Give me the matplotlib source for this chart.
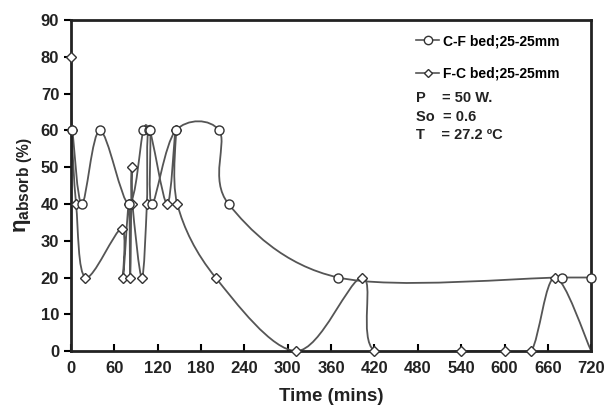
import numpy as np
import matplotlib
matplotlib.use("Agg")
import matplotlib.pyplot as plt
from matplotlib.path import Path
from matplotlib.patches import PathPatch
from matplotlib.lines import Line2D

# C-F bed (circles)
cf_time = [2, 15, 40, 80, 100, 108, 110, 112, 145, 205, 218, 370, 680, 720]
cf_eta = [60, 40, 60, 40, 60, 60, 60, 40, 60, 60, 40, 20, 20, 20]

# F-C bed (diamonds)
fc_time = [0, 1, 7, 20, 70, 72, 80, 82, 84, 85, 98, 105, 108, 133, 145, 147,
           200, 312, 403, 420, 540, 600, 637, 670, 720]
fc_eta = [80, 60, 40, 20, 33.3, 20, 40, 20, 50, 40, 20, 40, 60, 40, 60, 40,
          20, 0, 20, 0, 0, 0, 0, 20, 0]

x_ticks = list(range(0, 721, 60))
y_ticks = list(range(0, 91, 10))

LINE_COLOR = "#555555"
EDGE_COLOR = "#333333"


def smooth_path(xs, ys, sx, sy):
    # excel-like smoothed line: catmull-rom bezier computed in screen-ish units
    p = np.column_stack([np.asarray(xs, float) * sx, np.asarray(ys, float) * sy])
    verts = [p[0]]
    codes = [Path.MOVETO]
    n = len(p)
    for i in range(n - 1):
        p0 = p[i - 1] if i > 0 else p[i]
        p1 = p[i]
        p2 = p[i + 1]
        p3 = p[i + 2] if i + 2 < n else p[i + 1]
        c1 = p1 + (p2 - p0) / 6.0
        c2 = p2 - (p3 - p1) / 6.0
        verts += [c1, c2, p2]
        codes += [Path.CURVE4] * 3
    verts = np.array(verts)
    verts[:, 0] /= sx
    verts[:, 1] /= sy
    return Path(verts, codes)


plt.rcParams["font.family"] = ["Liberation Sans", "DejaVu Sans"]
plt.rcParams["mathtext.fontset"] = "custom"
plt.rcParams["mathtext.rm"] = "Liberation Sans:bold"
plt.rcParams["mathtext.bf"] = "Liberation Sans:bold"
plt.rcParams["mathtext.it"] = "Liberation Sans:bold"

fig = plt.figure(figsize=(6.07, 4.12), dpi=100)
ax = fig.add_axes([0.117, 0.148, 0.857, 0.803])
ax.set_xlim(0, 720)
ax.set_ylim(0, 90)

# scale factors: pixels per data unit
sx = 520 / 720
sy = 330 / 90

for xs, ys in [(cf_time, cf_eta), (fc_time, fc_eta)]:
    patch = PathPatch(smooth_path(xs, ys, sx, sy), facecolor="none",
                      edgecolor=LINE_COLOR, linewidth=1.3, zorder=2)
    ax.add_patch(patch)

ax.plot(fc_time[:-1], fc_eta[:-1], linestyle="none", marker="D", markersize=4.6,
        markerfacecolor="white", markeredgecolor=EDGE_COLOR, markeredgewidth=1.0,
        zorder=3, clip_on=False)
ax.plot(cf_time, cf_eta, linestyle="none", marker="o", markersize=6.5,
        markerfacecolor="white", markeredgecolor=EDGE_COLOR, markeredgewidth=1.0,
        zorder=4, clip_on=False)

ax.set_xticks(x_ticks)
ax.set_yticks(y_ticks)
ax.tick_params(axis="x", direction="in", length=5, width=1.5, labelsize=12, pad=7)
ax.tick_params(axis="y", direction="out", length=5, width=1.5, labelsize=12)
for lab in ax.get_xticklabels() + ax.get_yticklabels():
    lab.set_fontweight("bold")
    lab.set_color("#222222")
for sp in ax.spines.values():
    sp.set_linewidth(2)
    sp.set_color("#222222")

ax.set_xlabel("Time (mins)", fontsize=13.5, fontweight="bold", color="#222222", labelpad=9)
ax.set_ylabel(r"$\eta_{\mathrm{absorb\ (\%)}}$", fontsize=16, color="#222222", labelpad=4)

handles = [
    Line2D([], [], color=LINE_COLOR, marker="o", markersize=6, linewidth=1.2,
           markerfacecolor="white", markeredgecolor=EDGE_COLOR),
    Line2D([], [], color=LINE_COLOR, marker="D", markersize=4.5, linewidth=1.2,
           markerfacecolor="white", markeredgecolor=EDGE_COLOR),
]
leg = ax.legend(handles, ["C-F bed;25-25mm", "F-C bed;25-25mm"],
                loc="upper left", bbox_to_anchor=(0.64, 0.995), frameon=False,
                handlelength=1.6, handletextpad=0.3, labelspacing=1.3,
                prop={"weight": "bold", "size": 10})

ax.text(0.664, 0.785, "P    = 50 W.\nSo  = 0.6\nT    = 27.2 ºC", transform=ax.transAxes,
        fontsize=10.5, fontweight="bold", va="top", ha="left",
        linespacing=1.4, color="#222222")

fig.savefig("out.png", dpi=100)
